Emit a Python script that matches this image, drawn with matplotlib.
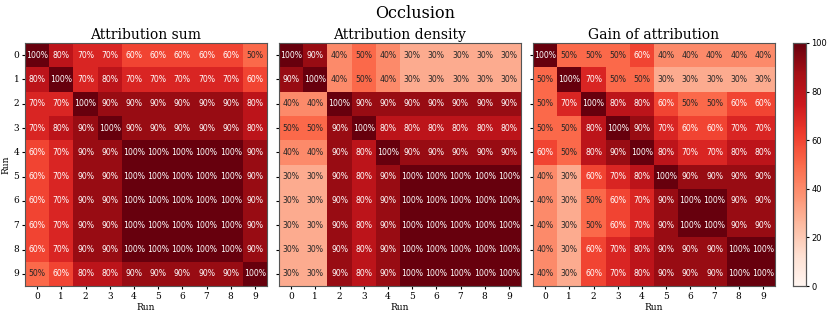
import numpy as np
import matplotlib
matplotlib.use("Agg")
import matplotlib.pyplot as plt
import seaborn as sns

runs = list(range(10))
titles = ["Attribution sum", "Attribution density", "Gain of attribution"]

attribution_sum = [
    [100, 80, 70, 70, 60, 60, 60, 60, 60, 50],
    [80, 100, 70, 80, 70, 70, 70, 70, 70, 60],
    [70, 70, 100, 90, 90, 90, 90, 90, 90, 80],
    [70, 80, 90, 100, 90, 90, 90, 90, 90, 80],
    [60, 70, 90, 90, 100, 100, 100, 100, 100, 90],
    [60, 70, 90, 90, 100, 100, 100, 100, 100, 90],
    [60, 70, 90, 90, 100, 100, 100, 100, 100, 90],
    [60, 70, 90, 90, 100, 100, 100, 100, 100, 90],
    [60, 70, 90, 90, 100, 100, 100, 100, 100, 90],
    [50, 60, 80, 80, 90, 90, 90, 90, 90, 100],
]

attribution_density = [
    [100, 90, 40, 50, 40, 30, 30, 30, 30, 30],
    [90, 100, 40, 50, 40, 30, 30, 30, 30, 30],
    [40, 40, 100, 90, 90, 90, 90, 90, 90, 90],
    [50, 50, 90, 100, 80, 80, 80, 80, 80, 80],
    [40, 40, 90, 80, 100, 90, 90, 90, 90, 90],
    [30, 30, 90, 80, 90, 100, 100, 100, 100, 100],
    [30, 30, 90, 80, 90, 100, 100, 100, 100, 100],
    [30, 30, 90, 80, 90, 100, 100, 100, 100, 100],
    [30, 30, 90, 80, 90, 100, 100, 100, 100, 100],
    [30, 30, 90, 80, 90, 100, 100, 100, 100, 100],
]

gain_of_attribution = [
    [100, 50, 50, 50, 60, 40, 40, 40, 40, 40],
    [50, 100, 70, 50, 50, 30, 30, 30, 30, 30],
    [50, 70, 100, 80, 80, 60, 50, 50, 60, 60],
    [50, 50, 80, 100, 90, 70, 60, 60, 70, 70],
    [60, 50, 80, 90, 100, 80, 70, 70, 80, 80],
    [40, 30, 60, 70, 80, 100, 90, 90, 90, 90],
    [40, 30, 50, 60, 70, 90, 100, 100, 90, 90],
    [40, 30, 50, 60, 70, 90, 100, 100, 90, 90],
    [40, 30, 60, 70, 80, 90, 90, 90, 100, 100],
    [40, 30, 60, 70, 80, 90, 90, 90, 100, 100],
]

plt.rcParams['font.family'] = 'DejaVu Serif'

fig = plt.figure(figsize=(8.3, 3.15), dpi=100)
W, H = 830, 315
lefts = [25, 279, 533]
axw = 242
top, bottom = 43, 286
axes = [fig.add_axes([l / W, 1 - bottom / H, axw / W, (bottom - top) / H]) for l in lefts]
cax = fig.add_axes([793 / W, 1 - bottom / H, 13 / W, (bottom - top) / H])

datasets = [attribution_sum, attribution_density, gain_of_attribution]
for i, (ax, data, title) in enumerate(zip(axes, datasets, titles)):
    arr = np.array(data, dtype=float)
    sns.heatmap(arr, ax=ax, cmap="Reds", vmin=0, vmax=100, annot=False,
                cbar=(i == 2), cbar_ax=cax if i == 2 else None,
                xticklabels=runs, yticklabels=runs if i == 0 else False)
    for r in range(arr.shape[0]):
        for c in range(arr.shape[1]):
            v = arr[r, c]
            ax.text(c + 0.5, r + 0.5, f"{int(v)}%", ha="center", va="center",
                    fontsize=5.6, family="DejaVu Sans",
                    color="#262626" if v <= 55 else "white")
    ax.set_title(title, fontsize=10, pad=3)
    ax.set_xlabel("Run", fontsize=6.5, labelpad=2)
    if i == 0:
        ax.set_ylabel("Run", fontsize=6.5, labelpad=2)
        ax.tick_params(axis='y', labelsize=6.5, rotation=0, length=2.5, pad=1.5)
    else:
        ax.set_yticks(np.arange(10) + 0.5)
        ax.set_yticklabels([])
        ax.tick_params(axis='y', length=2.5)
    ax.tick_params(axis='x', labelsize=6.5, rotation=0, length=2.5, pad=1.5)
    for sp in ax.spines.values():
        sp.set_visible(True)
        sp.set_color("#555555")
        sp.set_linewidth(0.8)

cax.set_yticks([0, 20, 40, 60, 80, 100])
cax.set_yticklabels(["0", "20", "40", "60", "80", "100"], family="DejaVu Sans", fontsize=6)
cax.tick_params(length=2.5, pad=1.5)
for sp in cax.spines.values():
    sp.set_visible(True)
    sp.set_color("#555555")
    sp.set_linewidth(0.8)

fig.suptitle("Occlusion", fontsize=11.5, y=0.985)
fig.savefig("out.png", dpi=100)
